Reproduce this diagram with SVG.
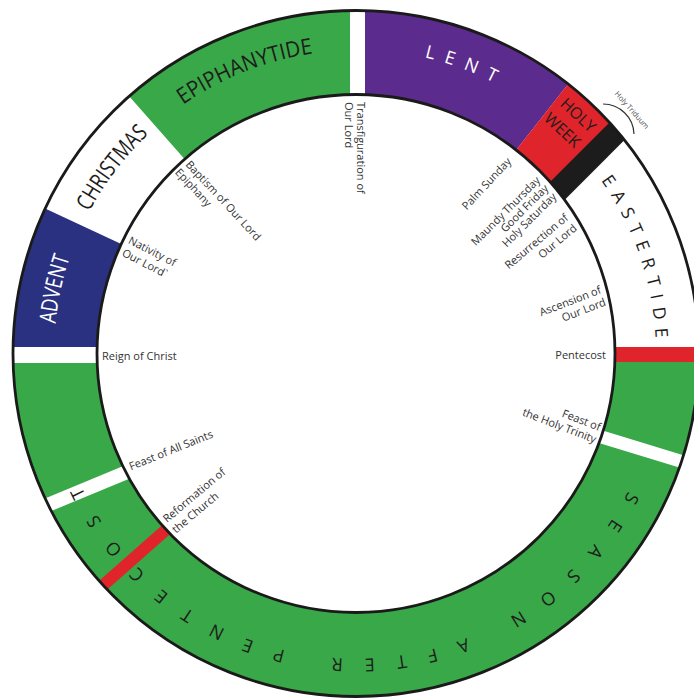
<svg xmlns="http://www.w3.org/2000/svg" width="694" height="699" viewBox="0 0 694 699">
<style>
.seg{fill:none;stroke-width:84}
.big{font-family:"Open Sans","Liberation Sans",sans-serif;fill:#1d1d1b}
.wht{fill:#ffffff}
.lbl{font-family:"Open Sans","Liberation Sans",sans-serif;font-size:11px;fill:#333333}
.rim{fill:none;stroke:#1a1a1a;stroke-width:2.8}
</style>
<defs>
<clipPath id="ring"><path clip-rule="evenodd" d="M699,353.5A343,343 0 1 1 13,353.5A343,343 0 1 1 699,353.5ZM615,353.5A259,259 0 1 0 97,353.5A259,259 0 1 0 615,353.5Z"/></clipPath>
<path id="pEpi" d="M118.9,164.9A303,303 0 0 1 400.8,53.8"/>
<path id="pChr" d="M56.5,315.1A302,302 0 0 1 239.5,74.9"/>
<path id="pAdv" d="M68.6,446.3A302,302 0 0 1 131.9,151.1"/>
<path id="pLent" d="M303.2,54.1A304,304 0 0 1 588.9,158.1"/>
<path id="pEast" d="M552.4,126.7A300,300 0 0 1 650.6,410.2"/>
<path id="pSeas" d="M659.6,382.7A305,305 0 0 1 51.9,377.4"/>
</defs>
<rect width="694" height="699" fill="#ffffff"/>
<g id="ring-fill" clip-path="url(#ring)">
<circle class="seg" cx="356" cy="353.5" r="301" stroke="#39a849" stroke-dasharray="945.6 3000"/>
<circle class="seg" cx="356" cy="353.5" r="301" stroke="#2a3181" stroke-dasharray="131.3 3000" transform="rotate(180 356 353.5)"/>
<circle class="seg" cx="356" cy="353.5" r="301" stroke="#39a849" stroke-dasharray="217.5 3000" transform="rotate(228.6 356 353.5)"/>
<circle class="seg" cx="356" cy="353.5" r="301" stroke="#5b2c8e" stroke-dasharray="200.7 3000" transform="rotate(270 356 353.5)"/>
<circle class="seg" cx="356" cy="353.5" r="301" stroke="#e0242b" stroke-dasharray="56.7 3000" transform="rotate(308.2 356 353.5)"/>
<polygon points="619.5,112.5 634.5,130 554.6,209.9 540,192" fill="#1c1c1c"/>
<rect x="350" y="0" width="15" height="120" fill="#ffffff"/>
<rect x="0" y="347" width="120" height="16" fill="#ffffff"/>
<rect x="580" y="347" width="120" height="15" fill="#e0242b"/>
<rect x="-10" y="-6.5" width="110" height="13" fill="#ffffff" transform="translate(603 437.5) rotate(17)"/>
<rect x="-60" y="-7" width="120" height="14" fill="#ffffff" transform="translate(85 489.5) rotate(-22.5)"/>
<rect x="-60" y="-6" width="120" height="12" fill="#e0242b" transform="translate(134 558) rotate(-41.4)"/>
</g>
<g id="rims">
<circle class="rim" cx="356" cy="353.5" r="343"/>
<circle class="rim" cx="356" cy="353.5" r="259"/>
</g>
<g id="seasons">
<text class="big" font-size="22"><textPath href="#pEpi" startOffset="50%" text-anchor="middle" textLength="141" lengthAdjust="spacingAndGlyphs">EPIPHANYTIDE</textPath></text>
<text class="big" font-size="23"><textPath href="#pChr" startOffset="50%" text-anchor="middle" textLength="98" lengthAdjust="spacingAndGlyphs">CHRISTMAS</textPath></text>
<text class="big wht" font-size="23"><textPath href="#pAdv" startOffset="50%" text-anchor="middle" textLength="68" lengthAdjust="spacingAndGlyphs">ADVENT</textPath></text>
<text class="big wht" font-size="18"><textPath href="#pLent" startOffset="50%" text-anchor="middle" textLength="74" lengthAdjust="spacing">LENT</textPath></text>
<text class="big" font-size="17.5"><textPath href="#pEast" startOffset="50%" text-anchor="middle" textLength="169" lengthAdjust="spacing">EASTERTIDE</textPath></text>
<text class="big" font-size="18"><textPath href="#pSeas" startOffset="50%" text-anchor="middle" textLength="678" lengthAdjust="spacing">SEASON AFTER PENTECOST</textPath></text>
<text class="big" font-size="16" text-anchor="middle" transform="translate(574.4 119.2) rotate(42.8)"><tspan x="0" y="0">HOLY</tspan><tspan x="-1.4" y="21.7">WEEK</tspan></text>
</g>
<g id="triduum">
<path d="M603,104A31,31 0 0 1 634,134" fill="none" stroke="#333333" stroke-width="1.2"/>
<text class="lbl" style="font-size:7.5px;fill:#555555" text-anchor="middle" transform="translate(630 111.8) rotate(48.5)">Holy Triduum</text>
</g>
<g id="labels">
<text class="lbl" x="102" y="360">Reign of Christ</text>
<text class="lbl" x="606" y="358.5" text-anchor="end">Pentecost</text>
<text class="lbl" transform="translate(131 470.5) rotate(-22)">Feast of All Saints</text>
<text class="lbl" transform="translate(167 523) rotate(-40)"><tspan x="0" y="0">Reformation of</tspan><tspan x="0" y="14">the Church</tspan></text>
<text class="lbl" transform="translate(127.5 243) rotate(27)"><tspan x="0" y="0">Nativity of</tspan><tspan x="0" y="14">Our Lord`</tspan></text>
<text class="lbl" transform="translate(185 165) rotate(47)"><tspan x="0" y="0">Baptism of Our Lord</tspan><tspan x="-1.5" y="13">Epiphany</tspan></text>
<text class="lbl" transform="translate(357 102) rotate(90)"><tspan x="0" y="0">Transfiguration of</tspan><tspan x="0" y="12">Our Lord</tspan></text>
<text class="lbl" text-anchor="end" transform="translate(512 162) rotate(-47)">Palm Sunday</text>
<text class="lbl" text-anchor="end" transform="translate(541 181) rotate(-45)"><tspan x="0" y="0">Maundy Thursday</tspan><tspan x="0" y="11.5">Good Friday</tspan><tspan x="0" y="23">Holy Saturday</tspan></text>
<text class="lbl" text-anchor="end" transform="translate(569 219) rotate(-40)"><tspan x="0" y="0">Resurrection of</tspan><tspan x="0" y="13.5">Our Lord</tspan></text>
<text class="lbl" text-anchor="end" transform="translate(602 293) rotate(-21)"><tspan x="0" y="0">Ascension of</tspan><tspan x="0" y="13">Our Lord</tspan></text>
<text class="lbl" text-anchor="end" transform="translate(599 431) rotate(21)"><tspan x="0" y="0">Feast of</tspan><tspan x="0" y="13">the Holy Trinity</tspan></text>
</g>
</svg>
